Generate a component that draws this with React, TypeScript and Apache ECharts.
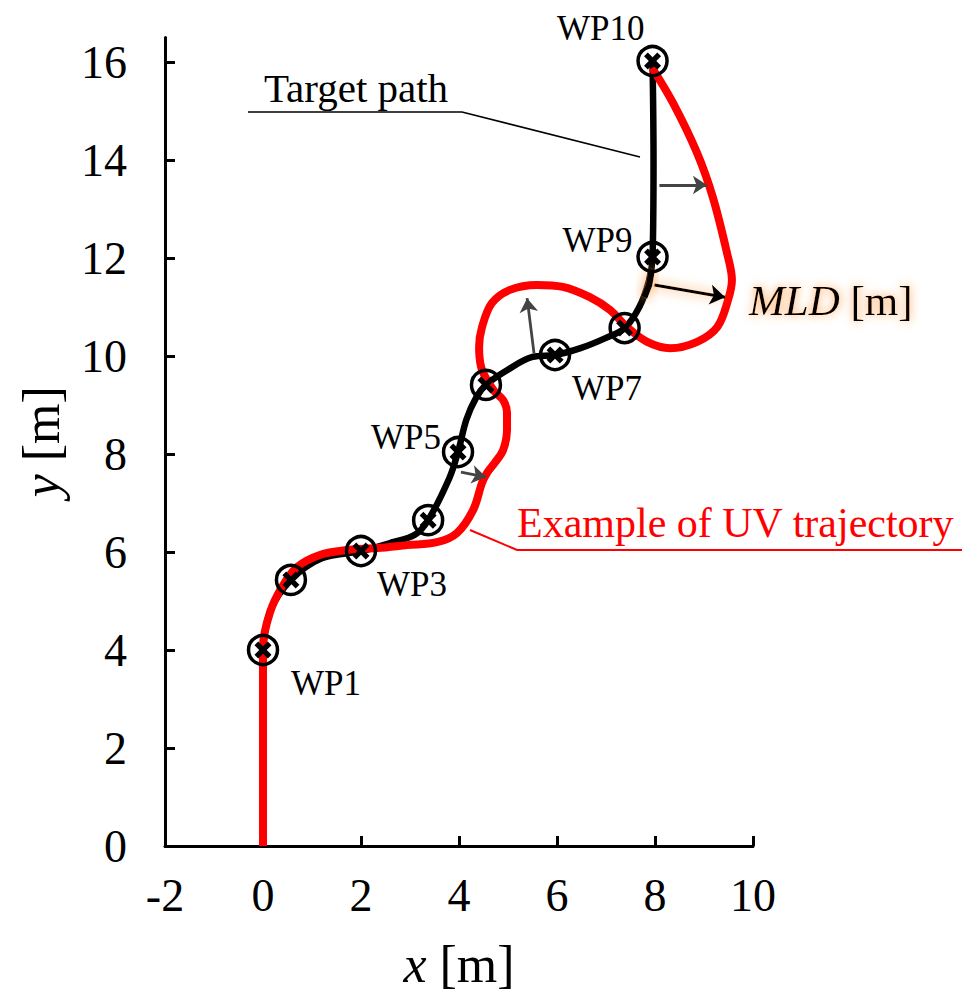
import React, { useEffect, useRef } from "react";
import * as echarts from "echarts";

// Axis ticks
const xTicks = [-2, 0, 2, 4, 6, 8, 10];
const yTicks = [0, 2, 4, 6, 8, 10, 12, 14, 16];

// Waypoints of the target path [m]
const waypointNames = ["WP1", "WP2", "WP3", "WP4", "WP5", "WP6", "WP7", "WP8", "WP9", "WP10"];
const waypointX = [0, 0.57, 2.0, 3.37, 3.98, 4.55, 5.96, 7.38, 7.95, 7.95];
const waypointY = [4.0, 5.43, 6.02, 6.65, 8.04, 9.41, 10.02, 10.57, 12.02, 16.02];
const labelledWaypoints = ["WP1", "WP3", "WP5", "WP7", "WP9", "WP10"];

// Target path through the waypoints [m]
const targetPath: [number, number][] = [
  [0, 4.0], [0.15, 4.8], [0.57, 5.43], [1.2, 5.87], [2.0, 6.02], [2.65, 6.2],
  [3.1, 6.35], [3.37, 6.65], [3.8, 7.5], [3.98, 8.04], [4.15, 8.7], [4.35, 9.15],
  [4.55, 9.41], [4.98, 9.71], [5.5, 9.98], [5.96, 10.02], [6.48, 10.16], [7.0, 10.37],
  [7.38, 10.57], [7.68, 11.0], [7.88, 11.55], [7.95, 12.02], [7.97, 14.0], [7.95, 16.02],
];

// Example UV trajectory [m]
const uvTrajectory: [number, number][] = [
  [0, 0], [0, 4.06], [0.14, 4.76], [0.39, 5.29], [0.69, 5.69], [1.16, 5.94],
  [1.71, 6.04], [2.33, 6.08], [2.94, 6.14], [3.55, 6.2], [3.96, 6.39], [4.29, 6.86],
  [4.47, 7.41], [4.57, 7.61], [4.73, 7.82], [4.9, 8.08], [4.98, 8.49], [4.98, 8.84],
  [4.9, 9.1], [4.73, 9.27], [4.57, 9.51], [4.45, 9.78], [4.41, 10.18], [4.47, 10.59],
  [4.67, 11.08], [5.04, 11.35], [5.59, 11.45], [6.12, 11.41], [6.67, 11.2], [7.08, 10.94],
  [7.43, 10.59], [7.84, 10.29], [8.31, 10.16], [8.86, 10.29], [9.27, 10.59], [9.49, 11.14],
  [9.57, 11.55], [9.47, 12.1], [9.18, 13.24], [8.86, 14.14], [8.37, 15.16], [7.94, 15.88],
];

// Lateral deviation vectors (path -> trajectory) [m]
const deviationArrows: [number, number][][] = [
  [[4.04, 7.63], [4.55, 7.53]],
  [[5.53, 10.06], [5.39, 11.18]],
  [[8.09, 13.49], [9.06, 13.49]],
];
// Maximum lateral deviation vector [m]
const mldArrow: [number, number][] = [[7.99, 11.45], [9.43, 11.2]];
const mldPathSegment: [number, number][] = [[7.78, 11.2], [7.88, 11.45], [7.93, 11.75]];

const SERIF = "'Liberation Serif', 'Times New Roman', serif";

const labelPlacement: Record<string, { align: string; offset: [number, number] }> = {
  WP1: { align: "left", offset: [28, 33] },
  WP3: { align: "left", offset: [16, 33] },
  WP5: { align: "right", offset: [-17, -15] },
  WP7: { align: "left", offset: [17, 33] },
  WP9: { align: "right", offset: [-20, -17] },
  WP10: { align: "right", offset: [-8, -33] },
};

const CROSS = "path://M2.2,0L5,2.8L7.8,0L10,2.2L7.2,5L10,7.8L7.8,10L5,7.2L2.2,10L0,7.8L2.8,5L0,2.2Z";

export default function App() {
  const ref = useRef<HTMLDivElement>(null);

  useEffect(() => {
    document.body.style.margin = "0";
    if (!ref.current) return;
    const chart = echarts.init(ref.current, undefined, { renderer: "svg" });

    const waypoints = waypointNames.map((name, i) => ({ name, value: [waypointX[i], waypointY[i]] }));
    const crossData = waypoints.map((wp) => {
      const p = labelPlacement[wp.name];
      if (!p || !labelledWaypoints.includes(wp.name)) return { ...wp, label: { show: false } };
      return {
        ...wp,
        label: {
          show: true,
          position: "inside",
          align: p.align,
          verticalAlign: "middle",
          offset: p.offset,
          formatter: "{b}",
          color: "#000",
          fontFamily: SERIF,
          fontSize: 35,
        },
      };
    });

    const axisCommon = {
      type: "value" as const,
      axisLine: { show: true, onZero: false, lineStyle: { color: "#000", width: 3 } },
      axisTick: { show: true, inside: true, length: 10, lineStyle: { color: "#000", width: 3 } },
      splitLine: { show: false },
      nameLocation: "middle" as const,
    };

    chart.setOption({
      animation: false,
      backgroundColor: "#fff",
      grid: { left: 165, right: 211, top: 37.5, bottom: 157 },
      xAxis: {
        ...axisCommon,
        min: -2,
        max: 10,
        interval: 2,
        axisLabel: { color: "#000", fontFamily: SERIF, fontSize: 46, margin: 26, customValues: xTicks },
        axisTick: { ...axisCommon.axisTick, customValues: xTicks },
        name: "{i|x} [m]",
        nameGap: 92,
        nameTextStyle: {
          color: "#000",
          fontFamily: SERIF,
          fontSize: 52,
          rich: { i: { fontStyle: "italic", fontFamily: SERIF, fontSize: 52, color: "#000" } },
        },
      },
      yAxis: {
        ...axisCommon,
        min: 0,
        max: 16.5,
        interval: 2,
        axisLabel: { color: "#000", fontFamily: SERIF, fontSize: 46, margin: 38, customValues: yTicks },
        axisTick: { ...axisCommon.axisTick, customValues: yTicks },
        name: "{i|y} [m]",
        nameGap: 98,
        nameTextStyle: {
          color: "#000",
          fontFamily: SERIF,
          fontSize: 52,
          rich: { i: { fontStyle: "italic", fontFamily: SERIF, fontSize: 52, color: "#000" } },
        },
      },
      series: [
        {
          name: "Target path",
          type: "line",
          data: targetPath,
          smooth: 0.35,
          showSymbol: false,
          lineStyle: { color: "#000", width: 6.5 },
          z: 2,
        },
        {
          name: "Example of UV trajectory",
          type: "line",
          data: uvTrajectory,
          smooth: 0.35,
          showSymbol: false,
          lineStyle: { color: "#ff0000", width: 8 },
          z: 3,
        },
        {
          type: "lines",
          coordinateSystem: "cartesian2d",
          polyline: true,
          data: [{ coords: mldPathSegment }],
          symbol: ["none", "none"],
          lineStyle: { color: "#000", width: 6.5, opacity: 1, shadowColor: "rgba(255,140,40,0.9)", shadowBlur: 12 },
          z: 4,
        },
        {
          type: "lines",
          coordinateSystem: "cartesian2d",
          data: deviationArrows.map((c) => ({ coords: c })),
          symbol: ["none", "arrow"],
          symbolSize: 14,
          lineStyle: { color: "#444", width: 2.8, opacity: 1 },
          z: 4,
        },
        {
          type: "lines",
          coordinateSystem: "cartesian2d",
          data: [{ coords: mldArrow }],
          symbol: ["none", "arrow"],
          symbolSize: 15,
          lineStyle: { color: "#000", width: 3, opacity: 1, shadowColor: "rgba(255,140,40,0.9)", shadowBlur: 12 },
          z: 4,
        },
        {
          type: "scatter",
          data: waypoints,
          symbol: "circle",
          symbolSize: 29,
          itemStyle: { color: "rgba(0,0,0,0)", borderColor: "#000", borderWidth: 3.5, opacity: 1 },
          z: 5,
        },
        {
          type: "scatter",
          data: crossData,
          symbol: CROSS,
          symbolSize: 17,
          itemStyle: { color: "#000", opacity: 1 },
          z: 6,
        },
      ],
      graphic: [
        {
          type: "text",
          x: 356,
          y: 88,
          style: { text: "Target path", fill: "#000", font: `41px ${SERIF}`, align: "center", verticalAlign: "middle" },
          z: 10,
        },
        {
          type: "polyline",
          shape: { points: [[248, 112], [462, 112], [640, 157]] },
          style: { stroke: "#000", lineWidth: 1.5, fill: "none" },
          z: 10,
        },
        {
          type: "text",
          x: 517,
          y: 523,
          style: { text: "Example of UV trajectory", fill: "#ff0000", font: `42px ${SERIF}`, align: "left", verticalAlign: "middle" },
          z: 10,
        },
        {
          type: "polyline",
          shape: { points: [[470, 530], [517, 550], [962, 550]] },
          style: { stroke: "#ff0000", lineWidth: 2, fill: "none" },
          z: 10,
        },
        {
          type: "text",
          x: 749,
          y: 300,
          style: {
            text: "{i|MLD} [m]",
            fill: "#000",
            font: `43px ${SERIF}`,
            align: "left",
            verticalAlign: "middle",
            textShadowColor: "rgba(255,140,40,0.9)",
            textShadowBlur: 10,
            rich: {
              i: {
                fontStyle: "italic",
                fontFamily: SERIF,
                fontSize: 43,
                fill: "#000",
                textShadowColor: "rgba(255,140,40,0.9)",
                textShadowBlur: 10,
              },
            },
          },
          z: 10,
        },
      ],
    });

    return () => chart.dispose();
  }, []);

  return <div ref={ref} style={{ width: 964, height: 1003 }} />;
}
